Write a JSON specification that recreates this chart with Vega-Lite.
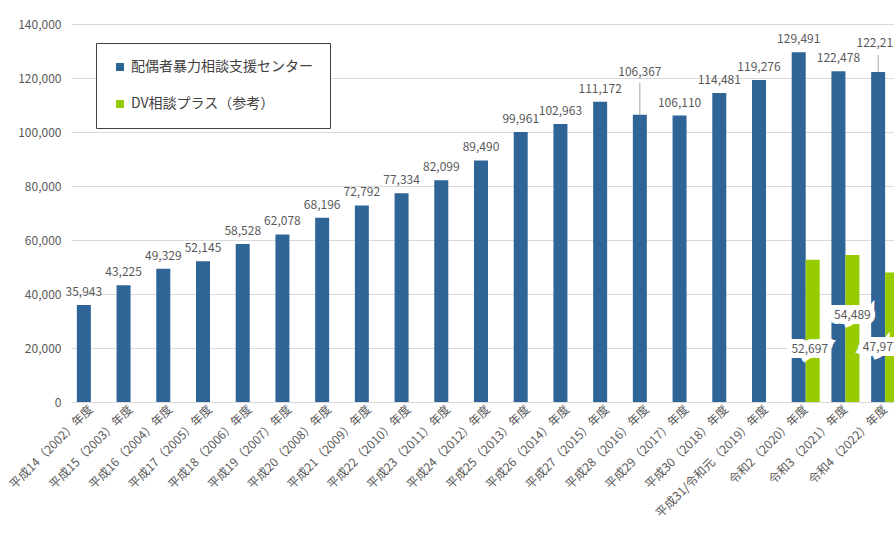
{
  "$schema": "https://vega.github.io/schema/vega-lite/v6.json",
  "width": 823,
  "height": 378,
  "autosize": {"type": "none"},
  "padding": {"left": 71, "top": 24, "right": 0, "bottom": 134},
  "background": "white",
  "config": {"font": "Noto Sans CJK JP", "view": {"stroke": null}},
  "data": {
    "values": [
      {"year": "平成14（2002）年度", "series": "配偶者暴力相談支援センター", "value": 35943},
      {"year": "平成15（2003）年度", "series": "配偶者暴力相談支援センター", "value": 43225},
      {"year": "平成16（2004）年度", "series": "配偶者暴力相談支援センター", "value": 49329},
      {"year": "平成17（2005）年度", "series": "配偶者暴力相談支援センター", "value": 52145},
      {"year": "平成18（2006）年度", "series": "配偶者暴力相談支援センター", "value": 58528},
      {"year": "平成19（2007）年度", "series": "配偶者暴力相談支援センター", "value": 62078},
      {"year": "平成20（2008）年度", "series": "配偶者暴力相談支援センター", "value": 68196},
      {"year": "平成21（2009）年度", "series": "配偶者暴力相談支援センター", "value": 72792},
      {"year": "平成22（2010）年度", "series": "配偶者暴力相談支援センター", "value": 77334},
      {"year": "平成23（2011）年度", "series": "配偶者暴力相談支援センター", "value": 82099},
      {"year": "平成24（2012）年度", "series": "配偶者暴力相談支援センター", "value": 89490},
      {"year": "平成25（2013）年度", "series": "配偶者暴力相談支援センター", "value": 99961},
      {"year": "平成26（2014）年度", "series": "配偶者暴力相談支援センター", "value": 102963},
      {"year": "平成27（2015）年度", "series": "配偶者暴力相談支援センター", "value": 111172},
      {"year": "平成28（2016）年度", "series": "配偶者暴力相談支援センター", "value": 106367},
      {"year": "平成29（2017）年度", "series": "配偶者暴力相談支援センター", "value": 106110},
      {"year": "平成30（2018）年度", "series": "配偶者暴力相談支援センター", "value": 114481},
      {"year": "平成31/令和元（2019）年度", "series": "配偶者暴力相談支援センター", "value": 119276},
      {"year": "令和2（2020）年度", "series": "配偶者暴力相談支援センター", "value": 129491},
      {"year": "令和3（2021）年度", "series": "配偶者暴力相談支援センター", "value": 122478},
      {"year": "令和4（2022）年度", "series": "配偶者暴力相談支援センター", "value": 122211},
      {"year": "令和2（2020）年度", "series": "DV相談プラス（参考）", "value": 52697},
      {"year": "令和3（2021）年度", "series": "DV相談プラス（参考）", "value": 54489},
      {"year": "令和4（2022）年度", "series": "DV相談プラス（参考）", "value": 47977}
    ]
  },
  "encoding": {
    "x": {
      "field": "year",
      "type": "nominal",
      "scale": {
        "domain": ["平成14（2002）年度", "平成15（2003）年度", "平成16（2004）年度", "平成17（2005）年度", "平成18（2006）年度", "平成19（2007）年度", "平成20（2008）年度", "平成21（2009）年度", "平成22（2010）年度", "平成23（2011）年度", "平成24（2012）年度", "平成25（2013）年度", "平成26（2014）年度", "平成27（2015）年度", "平成28（2016）年度", "平成29（2017）年度", "平成30（2018）年度", "平成31/令和元（2019）年度", "令和2（2020）年度", "令和3（2021）年度", "令和4（2022）年度"],
        "range": [0, 834],
        "paddingInner": 0.295,
        "paddingOuter": 0.1475
      },
      "axis": {
        "title": null,
        "labelAngle": -45,
        "labelAlign": "right",
        "labelBaseline": "middle",
        "labelPadding": 5,
        "labelFontSize": 12,
        "labelColor": "#595959",
        "labelLimit": 300,
        "ticks": false,
        "domainColor": "#d9d9d9",
        "grid": false
      }
    },
    "xOffset": {
      "field": "series",
      "type": "nominal",
      "scale": {"domain": ["配偶者暴力相談支援センター", "DV相談プラス（参考）"], "paddingInner": 0, "paddingOuter": 0}
    },
    "y": {
      "field": "value",
      "type": "quantitative",
      "scale": {"domain": [0, 140000]},
      "axis": {
        "title": null,
        "values": [0, 20000, 40000, 60000, 80000, 100000, 120000, 140000],
        "format": ",d",
        "labelFontSize": 12,
        "labelColor": "#595959",
        "labelPadding": 10,
        "ticks": false,
        "domain": false,
        "gridColor": "#d9d9d9"
      }
    }
  },
  "layer": [
    {
      "mark": {"type": "bar"},
      "encoding": {
        "color": {
          "field": "series",
          "type": "nominal",
          "scale": {"domain": ["配偶者暴力相談支援センター", "DV相談プラス（参考）"], "range": ["#2f6497", "#99cc00"]},
          "legend": {
            "title": null,
            "orient": "none",
            "legendX": 25,
            "legendY": 19,
            "direction": "vertical",
            "fillColor": "white",
            "strokeColor": "#404040",
            "padding": 17,
            "rowPadding": 23,
            "symbolType": "square",
            "symbolSize": 64,
            "symbolStrokeWidth": 0,
            "labelFontSize": 14,
            "labelColor": "#404040",
            "labelLimit": 300,
            "labelOffset": 4
          }
        }
      }
    },
    {
      "transform": [{"filter": "datum.series == '配偶者暴力相談支援センター' && datum.year != '平成28（2016）年度' && datum.year != '令和4（2022）年度'"}],
      "mark": {"type": "text", "baseline": "middle", "dy": -13, "fontSize": 12, "color": "#595959"},
      "encoding": {"text": {"field": "value", "type": "quantitative", "format": ",d"}}
    },
    {
      "transform": [{"filter": "datum.series == '配偶者暴力相談支援センター' && datum.year == '平成28（2016）年度'"}],
      "mark": {"type": "text", "baseline": "middle", "dy": -43, "fontSize": 12, "color": "#595959"},
      "encoding": {"text": {"field": "value", "type": "quantitative", "format": ",d"}}
    },
    {
      "transform": [{"filter": "datum.series == '配偶者暴力相談支援センター' && datum.year == '平成28（2016）年度'"}],
      "mark": {"type": "rule", "color": "#a6a6a6", "y2Offset": -32},
      "encoding": {"y2": {"field": "value"}}
    },
    {
      "transform": [{"filter": "datum.series == '配偶者暴力相談支援センター' && datum.year == '令和4（2022）年度'"}],
      "mark": {"type": "text", "baseline": "middle", "dy": -29, "fontSize": 12, "color": "#595959"},
      "encoding": {"text": {"field": "value", "type": "quantitative", "format": ",d"}}
    },
    {
      "transform": [{"filter": "datum.series == '配偶者暴力相談支援センター' && datum.year == '令和4（2022）年度'"}],
      "mark": {"type": "rule", "color": "#a6a6a6", "y2Offset": -17},
      "encoding": {"y2": {"field": "value"}}
    },
    {
      "transform": [{"filter": "datum.series == 'DV相談プラス（参考）' && datum.year == '令和2（2020）年度'"}],
      "mark": {"type": "text", "baseline": "middle", "dy": 89, "dx": -3, "fontSize": 12, "color": "white", "stroke": "white", "strokeWidth": 10, "strokeJoin": "miter"},
      "encoding": {"text": {"field": "value", "type": "quantitative", "format": ",d"}}
    },
    {
      "transform": [{"filter": "datum.series == 'DV相談プラス（参考）' && datum.year == '令和2（2020）年度'"}],
      "mark": {"type": "text", "baseline": "middle", "dy": 89, "dx": -3, "fontSize": 12, "color": "#595959"},
      "encoding": {"text": {"field": "value", "type": "quantitative", "format": ",d"}}
    },
    {
      "transform": [{"filter": "datum.series == 'DV相談プラス（参考）' && datum.year == '令和3（2021）年度'"}],
      "mark": {"type": "text", "baseline": "middle", "dy": 60, "fontSize": 12, "color": "white", "stroke": "white", "strokeWidth": 10, "strokeJoin": "miter"},
      "encoding": {"text": {"field": "value", "type": "quantitative", "format": ",d"}}
    },
    {
      "transform": [{"filter": "datum.series == 'DV相談プラス（参考）' && datum.year == '令和3（2021）年度'"}],
      "mark": {"type": "text", "baseline": "middle", "dy": 60, "fontSize": 12, "color": "#595959"},
      "encoding": {"text": {"field": "value", "type": "quantitative", "format": ",d"}}
    },
    {
      "transform": [{"filter": "datum.series == 'DV相談プラス（参考）' && datum.year == '令和4（2022）年度'"}],
      "mark": {"type": "text", "baseline": "middle", "dy": 75, "dx": -11, "fontSize": 12, "color": "white", "stroke": "white", "strokeWidth": 10, "strokeJoin": "miter"},
      "encoding": {"text": {"field": "value", "type": "quantitative", "format": ",d"}}
    },
    {
      "transform": [{"filter": "datum.series == 'DV相談プラス（参考）' && datum.year == '令和4（2022）年度'"}],
      "mark": {"type": "text", "baseline": "middle", "dy": 75, "dx": -11, "fontSize": 12, "color": "#595959"},
      "encoding": {"text": {"field": "value", "type": "quantitative", "format": ",d"}}
    }
  ]
}
